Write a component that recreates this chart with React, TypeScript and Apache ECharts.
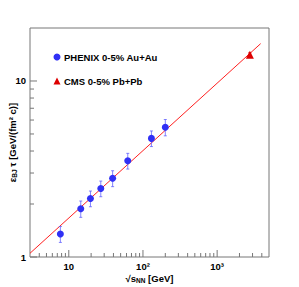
import React, { useEffect, useRef } from "react";
import * as echarts from "echarts";

// ---- data ----
const phenixEnergy = [7.7, 14.5, 19.6, 27, 39, 62.4, 130, 200];
const phenixValue = [1.35, 1.88, 2.15, 2.45, 2.8, 3.52, 4.72, 5.46];
const phenixErr = [0.14, 0.2, 0.22, 0.25, 0.29, 0.36, 0.48, 0.58];
const cmsEnergy = [2760];
const cmsValue = [14.1];
const cmsErr = [0.35];
const fitEnergy = [3, 3860];
const fitValue = [1.05, 16.3];

const xMajorTicks = [10, 100, 1000];
const xTickLabels = ["10", "10²", "10³"];
const xMinorTicks = [4, 5, 6, 7, 8, 9, 20, 30, 40, 50, 60, 70, 80, 90, 200, 300, 400, 500, 600, 700, 800, 900, 2000, 3000, 4000];
const yMajorTicks = [1, 10];
const yTickLabels = ["1", "10"];
const yMinorTicks = [2, 3, 4, 5, 6, 7, 8, 9];

const X_MIN = 3;
const X_MAX = 5000;
const Y_MIN = 1;
const Y_MAX = 20;

const FONT = "Liberation Sans, Arial, sans-serif";
const AXIS_COLOR = "#777777";

const near = (a: number, b: number) => Math.abs(Math.log10(a) - Math.log10(b)) < 1e-6;

export default function App() {
  const ref = useRef<HTMLDivElement>(null);
  useEffect(() => {
    if (!ref.current) return;
    const chart = echarts.init(ref.current, undefined, { renderer: "svg" });

    const xTickData = [...xMajorTicks, ...xMinorTicks].map((v) => [v, Y_MIN]);
    const yTickData = [...yMajorTicks, ...yMinorTicks].map((v) => [X_MIN, v]);

    const errSeries = (name: string, xs: number[], ys: number[], es: number[], color: string) => ({
      type: "custom",
      id: name,
      silent: true,
      clip: false,
      z: 3,
      data: xs.map((x, i) => [x, ys[i], ys[i] - es[i], ys[i] + es[i]]),
      renderItem: (params: any, api: any) => {
        const x = api.value(0);
        const lo = api.coord([x, api.value(2)]);
        const hi = api.coord([x, api.value(3)]);
        const c = 1.5;
        return {
          type: "group",
          children: [
            { type: "line", shape: { x1: lo[0], y1: lo[1], x2: hi[0], y2: hi[1] }, style: { stroke: color, lineWidth: 1 } },
            { type: "line", shape: { x1: lo[0] - c, y1: lo[1], x2: lo[0] + c, y2: lo[1] }, style: { stroke: color, lineWidth: 1 } },
            { type: "line", shape: { x1: hi[0] - c, y1: hi[1], x2: hi[0] + c, y2: hi[1] }, style: { stroke: color, lineWidth: 1 } },
          ],
        };
      },
    });

    const labelStyle = {
      fontFamily: FONT,
      fontWeight: "bold",
      fontSize: 9.5,
      color: "#000",
    };

    chart.setOption({
      animation: false,
      textStyle: { fontFamily: FONT },
      grid: {
        left: 30,
        top: 28,
        width: 239,
        height: 229,
        outerBoundsMode: "none",
        containLabel: false,
        show: true,
        borderColor: AXIS_COLOR,
        borderWidth: 1,
        backgroundColor: "transparent",
      },
      legend: {
        orient: "vertical",
        left: 53.5,
        top: 52,
        padding: 0,
        itemWidth: 7,
        itemHeight: 7,
        itemGap: 14,
        selectedMode: false,
        textStyle: { ...labelStyle, lineHeight: 10, padding: [0, 0, 0, -1.5] },
        data: [
          { name: "PHENIX 0-5% Au+Au", icon: "circle" },
          { name: "CMS 0-5% Pb+Pb", icon: "triangle" },
        ],
      },
      xAxis: {
        type: "log",
        logBase: 10,
        min: X_MIN,
        max: X_MAX,
        axisLine: { show: false },
        axisTick: { show: false },
        splitLine: { show: false },
        axisLabel: {
          ...labelStyle,
          margin: 4,
          showMinLabel: false,
          showMaxLabel: false,
          formatter: (v: number) => {
            const i = xMajorTicks.findIndex((t) => near(t, v));
            return i >= 0 ? xTickLabels[i] : "";
          },
        },
        name: "{a|√}{b|s}{sub|NN}{b| [GeV]}",
        nameLocation: "middle",
        nameGap: 15,
        nameMoveOverlap: false,
        nameTextStyle: {
          rich: {
            a: { ...labelStyle, lineHeight: 12 },
            b: { ...labelStyle, lineHeight: 12 },
            sub: { ...labelStyle, fontSize: 6.5, lineHeight: 7, verticalAlign: "bottom" },
          },
        },
      },
      yAxis: {
        type: "log",
        logBase: 10,
        min: Y_MIN,
        max: Y_MAX,
        axisLine: { show: false },
        axisTick: { show: false },
        splitLine: { show: false },
        axisLabel: {
          ...labelStyle,
          margin: 4,
          showMinLabel: true,
          showMaxLabel: false,
          formatter: (v: number) => {
            const i = yMajorTicks.findIndex((t) => near(t, v));
            return i >= 0 ? yTickLabels[i] : "";
          },
        },
        name: "{b|ε}{sub|BJ}{b| τ [GeV/(fm² c)]}",
        nameLocation: "middle",
        nameGap: 12,
        nameMoveOverlap: false,
        nameTextStyle: {
          rich: {
            b: { ...labelStyle, lineHeight: 12 },
            sub: { ...labelStyle, fontSize: 6.5, lineHeight: 7, verticalAlign: "bottom" },
          },
        },
      },
      series: [
        {
          type: "line",
          name: "fit",
          data: fitEnergy.map((x, i) => [x, fitValue[i]]),
          showSymbol: false,
          symbol: "none",
          silent: true,
          z: 1,
          lineStyle: { color: "#ff2020", width: 1 },
        },
        errSeries("phenixErr", phenixEnergy, phenixValue, phenixErr, "rgba(90,90,255,0.75)"),
        errSeries("cmsErr", cmsEnergy, cmsValue, cmsErr, "#dd0000"),
        {
          type: "scatter",
          name: "PHENIX 0-5% Au+Au",
          data: phenixEnergy.map((x, i) => [x, phenixValue[i]]),
          symbol: "circle",
          symbolSize: 7,
          z: 5,
          itemStyle: { color: "#3030f5", opacity: 1 },
        },
        {
          type: "scatter",
          name: "CMS 0-5% Pb+Pb",
          data: cmsEnergy.map((x, i) => [x, cmsValue[i]]),
          symbol: "triangle",
          symbolSize: 8,
          z: 5,
          itemStyle: { color: "#dd0000", opacity: 1 },
        },
        {
          type: "custom",
          id: "xticks",
          silent: true,
          clip: false,
          z: 6,
          data: xTickData,
          renderItem: (params: any, api: any) => {
            const v = api.value(0);
            const p = api.coord([v, Y_MIN]);
            const major = xMajorTicks.some((t) => near(t, v));
            const len = major ? 7 : 4;
            return {
              type: "line",
              shape: { x1: p[0], y1: p[1], x2: p[0], y2: p[1] - len },
              style: { stroke: AXIS_COLOR, lineWidth: 1 },
            };
          },
        },
        {
          type: "custom",
          id: "yticks",
          silent: true,
          clip: false,
          z: 6,
          data: yTickData,
          renderItem: (params: any, api: any) => {
            const v = api.value(1);
            const p = api.coord([X_MIN, v]);
            const major = yMajorTicks.some((t) => near(t, v));
            const len = major ? 7 : 4;
            return {
              type: "line",
              shape: { x1: p[0], y1: p[1], x2: p[0] + len, y2: p[1] },
              style: { stroke: AXIS_COLOR, lineWidth: 1 },
            };
          },
        },
      ],
    });
    return () => chart.dispose();
  }, []);
  return <div ref={ref} style={{ width: 299, height: 287, position: "absolute", left: 0, top: 0 }} />;
}
